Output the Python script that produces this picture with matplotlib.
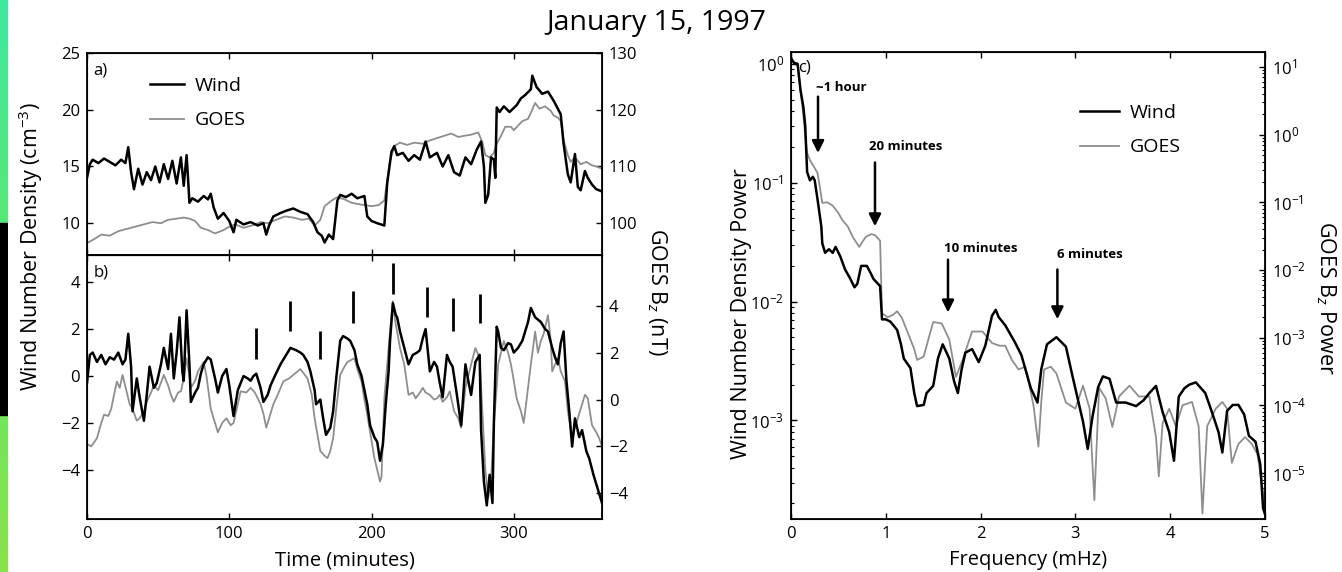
import numpy as np
import matplotlib
matplotlib.use("Agg")
import matplotlib.pyplot as plt
from matplotlib.lines import Line2D
from matplotlib.ticker import LogLocator, NullFormatter, FixedLocator
from matplotlib.colors import LinearSegmentedColormap

FONT = "Open Sans"
plt.rcParams['font.family'] = [FONT, 'DejaVu Sans']
plt.rcParams['mathtext.fontset'] = 'custom'
plt.rcParams['mathtext.rm'] = FONT
plt.rcParams['mathtext.it'] = FONT + ':italic'
plt.rcParams['mathtext.bf'] = FONT + ':bold'

# ---------------- data ----------------
title = "January 15, 1997"

# panel a: Wind number density (cm^-3)
wind_a_t = [0, 2, 4, 8, 12, 16, 20, 24, 27, 29, 31, 33, 36, 39, 42, 45, 48, 51, 54, 57, 60, 63, 66, 68, 70, 71,
            72, 74, 78, 82, 85, 87, 89, 92, 96, 100, 103, 105, 110, 115, 120, 124, 126, 128, 131, 136, 140, 145,
            150, 155, 159, 162, 165, 167, 170, 173, 176, 178, 182, 186, 190, 195, 197, 200, 204, 209, 211, 214,
            216, 218, 222, 226, 230, 234, 238, 241, 246, 250, 254, 258, 262, 266, 270, 274, 277, 279, 280, 282,
            284, 286, 287, 288, 290, 293, 297, 302, 305, 308, 312, 313, 316, 320, 324, 328, 333, 335, 338, 340,
            343, 345, 347, 350, 352, 355, 358, 362]
wind_a = [14.0, 15.2, 15.6, 15.3, 15.7, 15.4, 15.1, 15.6, 15.3, 16.7, 14.5, 13.0, 14.8, 13.4, 14.5, 13.8, 15.0,
          13.6, 15.2, 13.9, 15.5, 13.5, 15.8, 13.3, 16.0, 14.0, 11.8, 12.2, 11.9, 12.4, 12.1, 12.6, 11.4, 10.4,
          10.9, 10.2, 9.2, 10.3, 9.9, 10.1, 9.8, 10.0, 9.0, 9.8, 10.6, 10.9, 11.1, 11.3, 11.0, 10.8, 10.1, 9.2,
          8.9, 8.3, 9.0, 8.6, 12.0, 12.5, 12.3, 12.6, 12.2, 12.4, 10.6, 10.2, 10.0, 9.8, 13.5, 16.3, 16.8, 16.0,
          16.2, 15.5, 16.0, 15.6, 17.2, 15.8, 16.2, 15.0, 16.0, 14.5, 14.2, 15.8, 15.2, 16.5, 17.2, 15.0, 11.8,
          12.5, 15.8, 15.6, 14.0, 20.2, 19.8, 20.3, 19.8, 20.4, 21.0, 21.3, 21.8, 23.0, 22.0, 21.4, 21.6, 20.8,
          19.6, 17.0, 14.3, 13.6, 16.1, 13.2, 12.9, 14.6, 14.0, 13.4, 13.0, 12.8]

# panel a: GOES Bz (nT)
goes_a_t = [0, 5, 10, 16, 22, 28, 34, 40, 46, 52, 57, 63, 68, 72, 76, 80, 85, 90, 96, 100, 104, 110, 116, 122,
            127, 133, 139, 145, 151, 156, 160, 164, 167, 172, 176, 181, 186, 190, 195, 200, 205, 209, 211, 213,
            216, 220, 225, 230, 236, 241, 246, 251, 256, 261, 265, 270, 275, 278, 280, 283, 286, 288, 291, 294,
            298, 300, 303, 306, 310, 313, 315, 318, 322, 326, 328, 331, 333, 335, 338, 340, 343, 347, 351, 355,
            358, 362]
goes_a = [96.5, 97.2, 98.0, 97.8, 98.6, 99.0, 99.4, 99.8, 100.2, 100.0, 100.6, 100.8, 101.0, 100.8, 100.4, 99.2,
          98.8, 98.2, 98.8, 99.4, 99.8, 99.2, 99.6, 100.2, 100.0, 100.6, 101.2, 101.0, 100.6, 100.8, 99.6, 100.6,
          103.0, 104.0, 104.6, 104.2, 103.6, 103.4, 103.2, 103.0, 103.2, 104.0, 107.6, 111.0, 113.6, 114.2,
          113.8, 114.2, 114.0, 114.6, 115.0, 115.4, 115.8, 115.2, 115.4, 115.6, 116.0, 114.2, 112.0, 111.6,
          112.4, 114.0, 115.4, 117.0, 117.0, 116.4, 117.2, 118.0, 118.4, 120.0, 121.2, 120.2, 120.6, 119.8,
          119.0, 118.6, 118.0, 114.6, 112.0, 110.8, 111.6, 110.4, 110.8, 110.2, 110.0, 109.6]

# panel b: detrended Wind density (cm^-3)
wind_b_t = [0, 2, 4, 7, 10, 13, 16, 19, 22, 25, 27, 29, 31, 32, 35, 37, 40, 42, 44, 47, 49, 52, 54, 57, 59, 61,
            63, 65, 67, 68, 70, 72, 73, 76, 78, 80, 82, 85, 87, 90, 92, 95, 98, 100, 103, 106, 110, 113, 115, 117,
            119, 122, 124, 127, 129, 132, 136, 140, 143, 147, 150, 152, 155, 157, 160, 161, 164, 166, 168, 171,
            173, 175, 178, 180, 183, 185, 188, 190, 193, 195, 197, 199, 202, 204, 206, 208, 210, 212, 213, 215,
            217, 218, 220, 223, 226, 229, 232, 234, 236, 238, 241, 244, 246, 248, 250, 253, 255, 257, 260, 263,
            266, 268, 270, 273, 276, 277, 279, 281, 283, 285, 286, 288, 289, 291, 293, 296, 298, 300, 303, 306,
            308, 310, 312, 315, 317, 319, 322, 324, 327, 329, 331, 333, 335, 337, 339, 341, 343, 346, 348, 351,
            353, 356, 359, 362]
wind_b = [-0.3, 0.9, 1.0, 0.6, 0.9, 0.5, 0.8, 0.7, 1.0, 0.5, 0.7, 1.8, 0.4, -1.5, -0.1, -0.9, -1.9, -0.8, 0.4,
          -0.5, -0.3, 0.5, 1.2, 0.3, 1.8, -0.1, 1.0, 2.5, 0.2, -0.2, 2.8, 0.5, -1.1, -0.7, -0.5, 0.1, 0.5, 0.8,
          0.7, -0.1, -0.7, 0.0, 0.3, -0.4, -1.7, -0.6, 0.0, -0.1, -0.2, 0.0, 0.1, -0.5, -1.1, -0.8, -0.4, 0.0,
          0.5, 0.9, 1.2, 1.1, 1.0, 0.9, 0.6, 0.2, -0.6, -1.2, -1.0, -1.8, -2.5, -2.2, -1.5, -0.2, 1.5, 1.7, 1.6,
          1.5, 1.1, 0.5, 0.0, -0.6, -1.2, -2.1, -2.6, -2.8, -3.6, -2.9, -1.2, 0.2, 1.5, 3.1, 2.6, 2.5, 1.9, 1.2,
          0.5, 0.9, 1.0, 1.1, 1.6, 2.0, 0.2, 0.6, 0.4, -0.3, -0.9, 0.9, 0.6, 0.4, -0.8, -2.1, 0.5, -0.2, -0.8,
          0.6, 0.9, -2.3, -4.5, -5.5, -4.2, -5.4, -2.0, 2.1, 1.9, 1.2, 1.1, 1.4, 1.35, 1.0, 1.2, 1.5, 1.9, 2.3,
          2.9, 2.5, 2.4, 2.3, 2.0, 1.9, 1.2, 0.8, 0.5, 1.4, 1.9, -0.2, -1.5, -3.0, -1.8, -2.6, -2.3, -3.2, -3.5,
          -4.2, -4.8, -5.4]

# panel b: detrended GOES Bz (nT)
goes_b_t = [0, 3, 7, 10, 12, 15, 17, 19, 21, 23, 25, 28, 30, 32, 35, 37, 40, 42, 45, 47, 50, 54, 57, 59, 61, 64,
            66, 68, 70, 72, 73, 76, 78, 80, 82, 84, 87, 90, 92, 95, 98, 101, 103, 106, 108, 112, 115, 118, 122,
            124, 126, 128, 131, 134, 138, 142, 145, 150, 155, 158, 160, 162, 164, 167, 169, 171, 173, 175, 178,
            180, 183, 186, 188, 190, 193, 195, 197, 199, 202, 204, 206, 207, 209, 211, 213, 215, 217, 218, 220,
            223, 226, 229, 231, 234, 236, 238, 241, 244, 246, 248, 250, 253, 255, 258, 261, 263, 266, 268, 270,
            273, 276, 278, 280, 282, 284, 286, 288, 289, 291, 293, 296, 298, 300, 302, 305, 307, 310, 312, 315,
            317, 319, 321, 324, 326, 327, 329, 331, 333, 336, 338, 341, 344, 348, 350, 352, 355, 358, 360, 362]
goes_b = [-1.9, -2.0, -1.65, -1.0, -0.65, -0.7, -0.4, 0.2, 0.77, 0.5, 1.05, 0.3, -0.2, -0.4, -0.9, -0.8, -0.5,
          -0.1, 0.3, 0.6, 0.4, 1.05, 0.6, 0.2, -0.1, 0.3, 0.35, 0.9, 1.76, 1.0, 0.5, 0.8, 1.2, 1.4, 1.6, 1.0,
          -0.4, -1.0, -1.4, -1.0, -0.8, -1.1, -1.0, -0.2, 0.35, 0.3, 0.5, 0.3, -0.2, -0.6, -1.2, -0.8, -0.2, 0.2,
          0.77, 0.9, 1.05, 1.3, 0.9, 0.2, -0.8, -1.5, -2.2, -2.4, -2.5, -2.2, -1.65, -0.5, 1.05, 1.3, 1.6, 1.7,
          1.76, 1.3, 0.77, 0.0, -0.65, -1.4, -2.5, -3.0, -3.5, -3.3, 0.05, 1.5, 2.9, 4.2, 3.2, 2.9, 2.2, 1.5, 0.2,
          0.3, 0.05, 0.3, 0.5, 0.3, 0.2, 0.0, 0.05, 0.2, -0.1, 0.1, 0.35, -0.5, -0.8, -1.2, 0.5, 1.0, 1.5, 2.2,
          1.76, -0.65, -3.0, -4.2, -3.5, -1.0, 0.5, 1.5, 2.0, 2.5, 2.0, 1.5, 0.8, 0.05, -0.5, -1.0, 0.5, 1.5, 2.9,
          2.0, 2.5, 2.8, 3.6, 2.5, 1.2, 1.5, 1.76, 1.2, 0.77, -0.5, -1.65, -1.0, -0.2, 0.2, 0.05, -1.1, -1.4,
          -1.65, -2.0]

# panel b: vertical marker bars (time, lower, upper in cm^-3)
marker_t = [119, 143, 164, 187, 215, 239, 257, 276]
marker_lo = [0.72, 1.91, 0.72, 2.26, 3.5, 2.5, 1.9, 2.26]
marker_hi = [2.04, 3.19, 1.91, 3.6, 4.8, 3.8, 3.3, 3.5]

# panel c: power spectra (log10 of power)
wind_f = [0.0, 0.03, 0.07, 0.1, 0.13, 0.15, 0.17, 0.2, 0.23, 0.25, 0.28, 0.32, 0.33, 0.36, 0.4, 0.44, 0.47, 0.52,
          0.57, 0.62, 0.67, 0.7, 0.74, 0.8, 0.84, 0.87, 0.94, 0.96, 1.0, 1.05, 1.12, 1.16, 1.19, 1.26, 1.3, 1.33,
          1.4, 1.43, 1.5, 1.55, 1.6, 1.67, 1.72, 1.76, 1.8, 1.84, 1.91, 1.98, 2.05, 2.12, 2.16, 2.19, 2.26, 2.36,
          2.43, 2.53, 2.6, 2.64, 2.7, 2.8, 2.9, 2.97, 3.08, 3.13, 3.18, 3.24, 3.29, 3.36, 3.43, 3.53, 3.64, 3.72,
          3.78, 3.85, 3.92, 3.99, 4.04, 4.09, 4.15, 4.2, 4.27, 4.37, 4.44, 4.51, 4.55, 4.6, 4.66, 4.72, 4.78,
          4.83, 4.9, 4.95, 4.98, 5.0]
wind_logp = [0.05, 0.01, 0.0, -0.22, -0.36, -0.52, -0.91, -0.98, -0.95, -0.98, -1.14, -1.37, -1.51, -1.59, -1.56,
             -1.59, -1.54, -1.62, -1.73, -1.80, -1.88, -1.85, -1.70, -1.70, -1.76, -1.81, -1.87, -2.15, -2.15,
             -2.17, -2.24, -2.36, -2.48, -2.56, -2.77, -2.88, -2.87, -2.77, -2.71, -2.48, -2.36, -2.48, -2.67,
             -2.77, -2.57, -2.43, -2.40, -2.51, -2.37, -2.12, -2.07, -2.13, -2.20, -2.34, -2.45, -2.73, -2.85,
             -2.57, -2.36, -2.30, -2.38, -2.63, -3.01, -3.24, -2.97, -2.72, -2.63, -2.65, -2.85, -2.85, -2.88,
             -2.83, -2.77, -2.71, -2.93, -3.10, -3.34, -2.80, -2.73, -2.70, -2.68, -2.77, -2.93, -3.10, -3.27,
             -2.92, -2.87, -2.87, -2.95, -3.13, -3.18, -3.37, -3.74, -3.79]

goes_f = [0.0, 0.03, 0.07, 0.1, 0.13, 0.15, 0.17, 0.2, 0.24, 0.28, 0.3, 0.33, 0.38, 0.44, 0.5, 0.54, 0.6, 0.65,
          0.72, 0.76, 0.79, 0.85, 0.89, 0.94, 0.96, 1.02, 1.08, 1.12, 1.17, 1.23, 1.3, 1.33, 1.4, 1.45, 1.5, 1.59,
          1.67, 1.74, 1.81, 1.86, 1.91, 2.02, 2.12, 2.2, 2.26, 2.33, 2.4, 2.47, 2.52, 2.56, 2.61, 2.64, 2.67,
          2.74, 2.8, 2.9, 3.0, 3.08, 3.15, 3.2, 3.25, 3.32, 3.39, 3.46, 3.57, 3.67, 3.78, 3.85, 3.88, 3.92, 3.99,
          4.06, 4.13, 4.23, 4.3, 4.34, 4.39, 4.48, 4.55, 4.6, 4.65, 4.72, 4.79, 4.86, 4.92, 4.97, 5.0]
goes_logp = [1.12, 1.06, 1.01, 0.66, 0.29, -0.02, -0.27, -0.38, -0.47, -0.57, -0.74, -1.01, -1.00, -1.05, -1.16,
             -1.26, -1.36, -1.51, -1.66, -1.57, -1.51, -1.47, -1.49, -1.57, -2.64, -2.70, -2.66, -2.61, -2.71,
             -2.92, -3.17, -3.33, -3.28, -3.02, -2.77, -2.79, -3.03, -3.58, -3.33, -3.12, -2.91, -2.91, -3.08,
             -3.12, -3.12, -3.33, -3.47, -3.43, -3.74, -4.02, -4.61, -3.95, -3.47, -3.43, -3.53, -3.96, -4.05,
             -3.71, -4.05, -5.40, -3.74, -3.90, -4.32, -3.87, -3.71, -3.87, -3.87, -4.47, -5.05, -4.26, -4.05,
             -4.31, -4.00, -3.95, -4.31, -5.60, -4.31, -4.05, -3.95, -4.05, -4.85, -4.57, -4.47, -4.57, -4.72,
             -5.19, -5.50]

# panel c: arrow annotations (freq, arrow tip, arrow tail) on left axis, and label positions
arrow_labels = ["~1 hour", "20 minutes", "10 minutes", "6 minutes"]
arrow_f = [0.285, 0.886, 1.656, 2.81]
arrow_tip = [0.178, 0.043, 0.0081, 0.0071]
arrow_tail = [0.53, 0.148, 0.0225, 0.0186]
arrow_text_f = [0.53, 1.21, 2.0, 3.15]
arrow_text_y = [0.63, 0.20, 0.028, 0.025]

WIND_C = "black"
GOES_C = "#8e8e8e"

# ---------------- figure ----------------
W, H = 1342, 572
fig = plt.figure(figsize=(W / 100, H / 100), dpi=100)


def rect(x0, y0, x1, y1):
    return [x0 / W, 1 - y1 / H, (x1 - x0) / W, (y1 - y0) / H]


# decorative strip at the left edge
strip = fig.add_axes([0, 0, 8 / W, 1])
grad = np.linspace(0, 1, 256).reshape(-1, 1)
cmap = LinearSegmentedColormap.from_list("g", ["#3fe8a0", "#5ee86a", "#8ae24a"])
strip.imshow(grad, aspect='auto', cmap=cmap, extent=[0, 1, 0, 1], origin='upper')
strip.axvspan(0, 1, ymin=1 - 415 / H, ymax=1 - 223 / H, color='black')
strip.set_xlim(0, 1)
strip.set_ylim(0, 1)
strip.axis('off')

TICK_FS = 12
XLAB_FS = 14.5
YLAB_FS = 15.5
LEG_FS = 14
ANN_FS = 9.5

ax_a = fig.add_axes(rect(87, 53, 602, 255))
ax_b = fig.add_axes(rect(87, 255, 602, 519), sharex=ax_a)
ax_c = fig.add_axes(rect(791, 52, 1265, 519))

for ax in (ax_a, ax_b, ax_c):
    for s in ax.spines.values():
        s.set_linewidth(1.3)
    ax.tick_params(direction='in', length=4, width=1, labelsize=TICK_FS, top=True, pad=5)

# panel a
ax_a.plot(wind_a_t, wind_a, color=WIND_C, lw=1.8, zorder=3)
ax_a2 = ax_a.twinx()
ax_a2.plot(goes_a_t, goes_a, color=GOES_C, lw=1.3, zorder=2)
ax_a.set_zorder(ax_a2.get_zorder() + 1)
ax_a.patch.set_visible(False)
ax_a.set_xlim(0, 362)
ax_a.set_ylim(7.2, 25)
ax_a2.set_ylim(94.4, 130)
ax_a.set_yticks([10, 15, 20, 25])
ax_a2.set_yticks([100, 110, 120, 130])
ax_a2.tick_params(direction='in', length=4, width=1, labelsize=TICK_FS, pad=5)
ax_a.tick_params(labelbottom=False)
ax_a.text(0.012, 0.955, "a)", transform=ax_a.transAxes, fontsize=12, va='top')
ax_a.legend([Line2D([], [], color=WIND_C, lw=1.8), Line2D([], [], color=GOES_C, lw=1.3)],
            ["Wind", "GOES"], loc='upper left', bbox_to_anchor=(0.122, 0.882), frameon=False,
            fontsize=LEG_FS, handlelength=1.75, handletextpad=0.55, labelspacing=0.85, borderpad=0,
            borderaxespad=0)

# panel b
ax_b.plot(wind_b_t, wind_b, color=WIND_C, lw=1.8, zorder=3)
ax_b.vlines(marker_t, marker_lo, marker_hi, color='black', lw=2.0, zorder=4)
ax_b2 = ax_b.twinx()
ax_b2.plot(goes_b_t, goes_b, color=GOES_C, lw=1.3, zorder=2)
ax_b.set_zorder(ax_b2.get_zorder() + 1)
ax_b.patch.set_visible(False)
ax_b.set_ylim(-6.08, 5.15)
ax_b2.set_ylim(-5.1, 6.17)
ax_b.set_yticks([-4, -2, 0, 2, 4])
ax_b2.set_yticks([-4, -2, 0, 2, 4])
ax_b2.tick_params(direction='in', length=4, width=1, labelsize=TICK_FS, pad=5)
ax_b.set_xticks([0, 100, 200, 300])
ax_b.text(0.012, 0.965, "b)", transform=ax_b.transAxes, fontsize=12, va='top')
ax_b.set_xlabel("Time (minutes)", fontsize=XLAB_FS, labelpad=6)

fig.text(31 / W, 1 - 247 / H, "Wind Number Density (cm$^{-3}$)", rotation=90, ha='center', va='center',
         fontsize=YLAB_FS)
fig.text(657 / W, 1 - 292 / H, "GOES B$_{z}$ (nT)", rotation=-90, ha='center', va='center', fontsize=YLAB_FS)

# panel c
ax_c.semilogy(wind_f, np.power(10.0, wind_logp), color=WIND_C, lw=1.8, zorder=3)
ax_c2 = ax_c.twinx()
ax_c2.semilogy(goes_f, np.power(10.0, goes_logp), color=GOES_C, lw=1.3, zorder=2)
ax_c.set_zorder(ax_c2.get_zorder() + 1)
ax_c.patch.set_visible(False)
ax_c.set_xlim(0, 5)
ax_c.set_ylim(10 ** -3.83, 10 ** 0.1)
ax_c2.set_ylim(10 ** -5.68, 10 ** 1.22)
ax_c.yaxis.set_major_locator(FixedLocator([1e-3, 1e-2, 1e-1, 1e0]))
ax_c2.yaxis.set_major_locator(FixedLocator([1e-5, 1e-4, 1e-3, 1e-2, 1e-1, 1e0, 1e1]))
for a in (ax_c, ax_c2):
    a.yaxis.set_minor_locator(LogLocator(base=10, subs=np.arange(2, 10), numticks=20))
    a.yaxis.set_minor_formatter(NullFormatter())
    a.tick_params(which='minor', direction='in', length=2, width=0.8)
ax_c2.tick_params(direction='in', length=4, width=1, labelsize=TICK_FS, pad=5)
ax_c.set_xticks([0, 1, 2, 3, 4, 5])
ax_c.text(0.014, 0.985, "c)", transform=ax_c.transAxes, fontsize=12, va='top')
ax_c.set_xlabel("Frequency (mHz)", fontsize=XLAB_FS, labelpad=6)
ax_c.legend([Line2D([], [], color=WIND_C, lw=1.8), Line2D([], [], color=GOES_C, lw=1.3)],
            ["Wind", "GOES"], loc='upper left', bbox_to_anchor=(0.61, 0.889), frameon=False,
            fontsize=LEG_FS, handlelength=2.0, handletextpad=0.55, labelspacing=0.85, borderpad=0,
            borderaxespad=0)

for lab, f, tip, tail, tf, ty in zip(arrow_labels, arrow_f, arrow_tip, arrow_tail, arrow_text_f, arrow_text_y):
    ax_c.annotate("", xy=(f, tip), xytext=(f, tail),
                  arrowprops=dict(arrowstyle='-|>', lw=1.8, color='black', mutation_scale=18,
                                  shrinkA=0, shrinkB=0))
    ax_c.text(tf, ty, lab, fontsize=ANN_FS, fontweight='bold', ha='center', va='center')

fig.text(656 / W, 1 - 23 / H, title, ha='center', va='center', fontsize=20.5)

fig.text(742 / W, 1 - 314 / H, "Wind Number Density Power", rotation=90, ha='center', va='center',
         fontsize=YLAB_FS)
fig.text(1326 / W, 1 - 298 / H, "GOES B$_{z}$ Power", rotation=-90, ha='center', va='center', fontsize=YLAB_FS)

fig.savefig("out.png", dpi=100)
